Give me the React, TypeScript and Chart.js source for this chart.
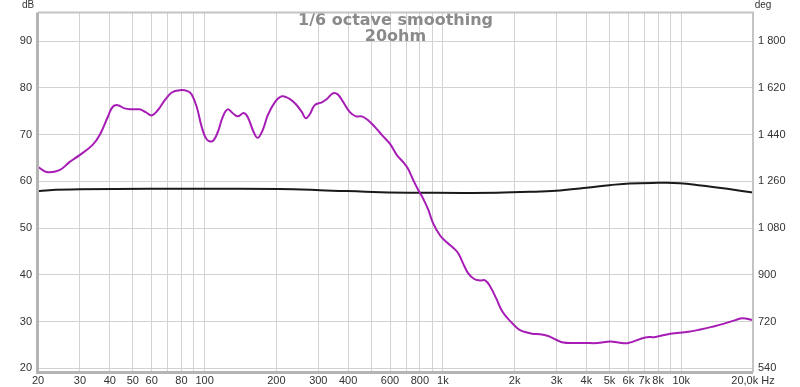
import React, { useEffect, useRef } from "react";
import { Chart, registerables } from "chart.js";

Chart.register(...registerables);

// Magnitude (dB) curve
const magFreq = [
  20, 21.7, 24.6, 27.1, 29.9, 33.9, 36.3, 39.2, 41.1, 43.2, 46.1, 49.4, 53.4, 56.6, 60, 63.6, 68, 72.8,
  78.7, 84.9, 88.3, 92.7, 97.3, 102, 108, 113.5, 119, 125, 132.5, 137.8, 146, 151.8, 160.8, 167, 175.5,
  184, 197, 211, 228, 241.7, 256, 266, 276.7, 290, 310.6, 326, 345, 362, 380, 407, 431.5, 457, 484, 519,
  555, 600, 641, 687, 714, 750, 787, 826, 867, 910, 973, 1040, 1104, 1159, 1216, 1277, 1353, 1433, 1504,
  1578, 1672, 1773, 1915, 2070, 2193, 2368, 2558, 2765, 2987, 3198, 3590, 3955, 4443, 5038, 5446, 5998,
  7066, 7784, 8995, 10710, 12030, 13520, 15030, 16880, 18070, 20000,
];
const magDb = [
  63.1, 62.0, 62.4, 64.1, 65.6, 67.8, 69.9, 73.7, 75.9, 76.3, 75.6, 75.4, 75.4, 74.8, 74.1, 75.2, 77.3, 79.0,
  79.5, 79.3, 78.6, 75.9, 71.6, 69.0, 68.6, 70.5, 73.7, 75.4, 74.4, 73.9, 74.6, 73.7, 70.5, 69.3, 71.0,
  74.1, 76.9, 78.2, 77.6, 76.5, 74.8, 73.5, 74.4, 76.3, 76.9, 77.6, 78.8, 78.6, 77.1, 74.8, 73.9, 73.9, 73.1, 71.6,
  69.9, 68.0, 65.6, 63.9, 62.7, 60.3, 58.2, 56.3, 54.0, 51.0, 48.4, 46.9, 45.8, 44.6, 42.4, 40.3, 39.1, 38.8, 38.8,
  37.5, 35.0, 32.2, 30.1, 28.4, 27.8, 27.4, 27.3, 26.9, 26.1, 25.5, 25.4, 25.4, 25.4, 25.7, 25.5, 25.4,
  26.6, 26.7, 27.4, 27.8, 28.3, 28.9, 29.5, 30.3, 30.7, 30.3,
];

// Phase (deg) curve
const phaseFreq = [20, 22.3, 29.9, 58.6, 95, 206, 305, 547, 794, 1680, 2560, 3100, 4000, 5000, 6070, 7960, 9850, 12100, 16100, 20000];
const phaseDeg = [1222, 1226, 1229, 1231, 1231, 1230, 1226, 1218, 1216, 1216, 1221, 1225, 1235, 1245, 1252, 1254, 1253, 1244, 1229, 1217];

const xGridTicks = [
  20, 30, 40, 50, 60, 70, 80, 90, 100, 200, 300, 400, 500, 600, 700, 800, 900, 1000, 2000, 3000, 4000,
  5000, 6000, 7000, 8000, 9000, 10000, 20000,
];
const xTickLabels: Record<number, string> = {
  20: "20", 30: "30", 40: "40", 50: "50", 60: "60", 80: "80", 100: "100", 200: "200", 300: "300",
  400: "400", 600: "600", 800: "800", 1000: "1k", 2000: "2k", 3000: "3k", 4000: "4k", 5000: "5k",
  6000: "6k", 7000: "7k", 8000: "8k", 10000: "10k", 20000: "20,0k Hz",
};
const dbTicks = [20, 30, 40, 50, 60, 70, 80, 90];
const degTicks = [540, 720, 900, 1080, 1260, 1440, 1620, 1800];
const titleLines = ["1/6 octave smoothing", "20ohm"];

const FONT = "'Liberation Sans', Arial, sans-serif";

export default function App() {
  const ref = useRef<HTMLCanvasElement | null>(null);

  useEffect(() => {
    if (!ref.current) return;
    const overlay = {
      id: "overlay",
      beforeDatasetsDraw(chart: any) {
        const { ctx, chartArea: a } = chart;
        ctx.save();
        ctx.fillStyle = "#8a8a8a";
        ctx.font = "bold 16px 'DejaVu Sans', sans-serif";
        ctx.textAlign = "center";
        ctx.textBaseline = "middle";
        const cx = (a.left + a.right) / 2;
        ctx.fillText(titleLines[0], cx, 21);
        ctx.fillText(titleLines[1], cx, 37);
        ctx.restore();
      },
      afterDraw(chart: any) {
        const { ctx, chartArea: a } = chart;
        ctx.save();
        ctx.strokeStyle = "#c4c4c4";
        ctx.lineWidth = 2;
        ctx.beginPath();
        ctx.moveTo(a.left, a.top);
        ctx.lineTo(a.right, a.top);
        ctx.lineTo(a.right, a.bottom);
        ctx.stroke();
        ctx.strokeStyle = "#b4b4b4";
        ctx.lineWidth = 3;
        ctx.beginPath();
        ctx.moveTo(a.left - 0.5, a.top);
        ctx.lineTo(a.left - 0.5, a.bottom + 0.5);
        ctx.lineTo(a.right, a.bottom + 0.5);
        ctx.stroke();
        ctx.fillStyle = "#333";
        ctx.font = "10px " + FONT;
        ctx.textBaseline = "middle";
        ctx.textAlign = "center";
        ctx.fillText("dB", 28, 5);
        ctx.fillText("deg", 763, 5);
        ctx.restore();
      },
    };

    const chart = new Chart(ref.current, {
      type: "line",
      data: {
        datasets: [
          {
            label: "SPL",
            data: magFreq.map((f, i) => ({ x: f, y: magDb[i] })),
            borderColor: "#a61cb5",
            borderWidth: 2,
            pointRadius: 0,
            tension: 0.4,
            yAxisID: "y",
          },
          {
            label: "Phase",
            data: phaseFreq.map((f, i) => ({ x: f, y: phaseDeg[i] })),
            borderColor: "#1a1a1a",
            borderWidth: 2,
            pointRadius: 0,
            tension: 0.4,
            yAxisID: "y2",
          },
        ],
      },
      plugins: [overlay],
      options: {
        responsive: false,
        animation: false,
        layout: { padding: { top: 10, left: 0, right: 0, bottom: 0 } },
        plugins: { legend: { display: false }, tooltip: { enabled: false } },
        scales: {
          x: {
            type: "logarithmic",
            min: 20,
            max: 20000,
            afterBuildTicks: (s: any) => {
              s.ticks = xGridTicks.map((v) => ({ value: v }));
            },
            afterFit: (s: any) => {
              s.height = 15;
            },
            ticks: {
              autoSkip: false,
              maxRotation: 0,
              padding: 2,
              color: "#333",
              font: { family: FONT, size: 11 },
              callback: (v: any) => xTickLabels[Number(v)] ?? "",
            },
            grid: { color: "#d2d2d2", lineWidth: 1, drawTicks: false },
            border: { display: false },
          },
          y: {
            type: "linear",
            position: "left",
            min: 19.2,
            max: 96.1,
            afterBuildTicks: (s: any) => {
              s.ticks = dbTicks.map((v) => ({ value: v }));
            },
            afterFit: (s: any) => {
              s.width = 38;
            },
            ticks: {
              padding: 6,
              color: "#333",
              font: { family: FONT, size: 11 },
            },
            grid: { color: "#d2d2d2", lineWidth: 1, drawTicks: false },
            border: { display: false },
          },
          y2: {
            type: "linear",
            position: "right",
            min: 525.6,
            max: 1909.8,
            afterBuildTicks: (s: any) => {
              s.ticks = degTicks.map((v) => ({ value: v }));
            },
            afterFit: (s: any) => {
              s.width = 47;
            },
            ticks: {
              padding: 5,
              color: "#333",
              font: { family: FONT, size: 11 },
              callback: (v: any) => {
                const n = Number(v);
                return n >= 1000 ? Math.floor(n / 1000) + " " + String(n % 1000).padStart(3, "0") : String(n);
              },
            },
            grid: { display: false, drawTicks: false },
            border: { display: false },
          },
        },
      },
    } as any);
    return () => chart.destroy();
  }, []);

  return (
    <div style={{ position: "fixed", left: 0, top: 0, width: 800, height: 387, background: "#fff" }}>
      <canvas ref={ref} width={800} height={387} style={{ width: 800, height: 387 }} />
    </div>
  );
}
